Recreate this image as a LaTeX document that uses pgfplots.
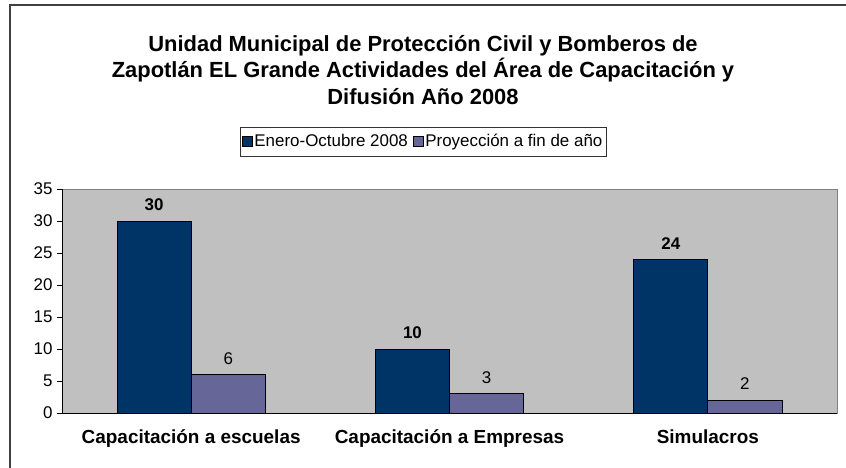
\documentclass[border=0pt]{standalone}
\usepackage{pgfplots}
\pgfplotsset{compat=1.18}
\usepackage{fontspec}
\setmainfont{Liberation Sans}
\definecolor{navy}{HTML}{003366}
\definecolor{lila}{HTML}{666699}
\definecolor{plotgray}{HTML}{C0C0C0}

\begin{document}
\begin{tikzpicture}
% page = 846 x 468 px, axis box lower left at (62,413) px
\useasboundingbox (-62bp,-55bp) rectangle (784bp,413bp);
\draw[line width=1.5bp, black!75] (-52bp,-80bp) rectangle (800bp,408bp);
\node[font=\bfseries\fontsize{22}{26.5}\selectfont, align=center] at (361bp,343bp)
  {Unidad Municipal de Protección Civil y Bomberos de\\
   Zapotlán EL Grande Actividades del Área de Capacitación y\\
   Difusión Año 2008};
\begin{axis}[
    at={(0,0)}, anchor=south west,
    scale only axis,
    width=775bp, height=224bp,
    ybar,
    bar width=0.287,
    xmin=-0.5, xmax=2.5,
    ymin=0, ymax=35,
    ytick={0,5,...,35},
    xtick={0,1,2},
    xticklabels={Capacitación a escuelas, Capacitación a Empresas, Simulacros},
    x tick label style={font=\bfseries\fontsize{19}{22}\selectfont, yshift=-8bp},
    y tick label style={font=\fontsize{17}{20}\selectfont, xshift=-1bp},
    /pgf/number format/assume math mode=true,
    major x tick style={draw=none},
    extra x ticks={-0.5,0.5,1.5,2.5},
    extra x tick labels={},
    extra x tick style={major tick length=6bp, tick align=outside, tick style={draw=black}},
    tick align=outside,
    major tick length=5bp,
    tick style={black},
    axis x line*=bottom,
    axis y line*=left,
    axis line style={black, -},
    axis background/.style={fill=plotgray, draw=gray},
    legend style={at={(0.466,1.212)}, anchor=center, legend columns=2,
        draw=black!80, line width=0.8bp, font=\fontsize{17}{20}\selectfont,
        inner xsep=2bp, inner ysep=5.5bp,
        /tikz/every even column/.append style={column sep=3bp}},
    legend image code/.code={\draw[#1,draw=black,line width=0.5bp] (0bp,-5bp) rectangle (10bp,5bp);},
    nodes near coords,
    nodes near coords style={font=\fontsize{17}{20}\selectfont, inner sep=0pt, yshift=10bp, black},
]
\addplot[fill=navy, draw=black, line width=0.7bp, bar shift=-0.1435,
    every node near coord/.append style={font=\bfseries\fontsize{17}{20}\selectfont}]
    coordinates {(0,30) (1,10) (2,24)};
\addplot[fill=lila, draw=black, line width=0.7bp, bar shift=0.1435]
    coordinates {(0,6) (1,3) (2,2)};
\legend{Enero-Octubre 2008, Proyección a fin de año}
\end{axis}
\end{tikzpicture}
\end{document}
